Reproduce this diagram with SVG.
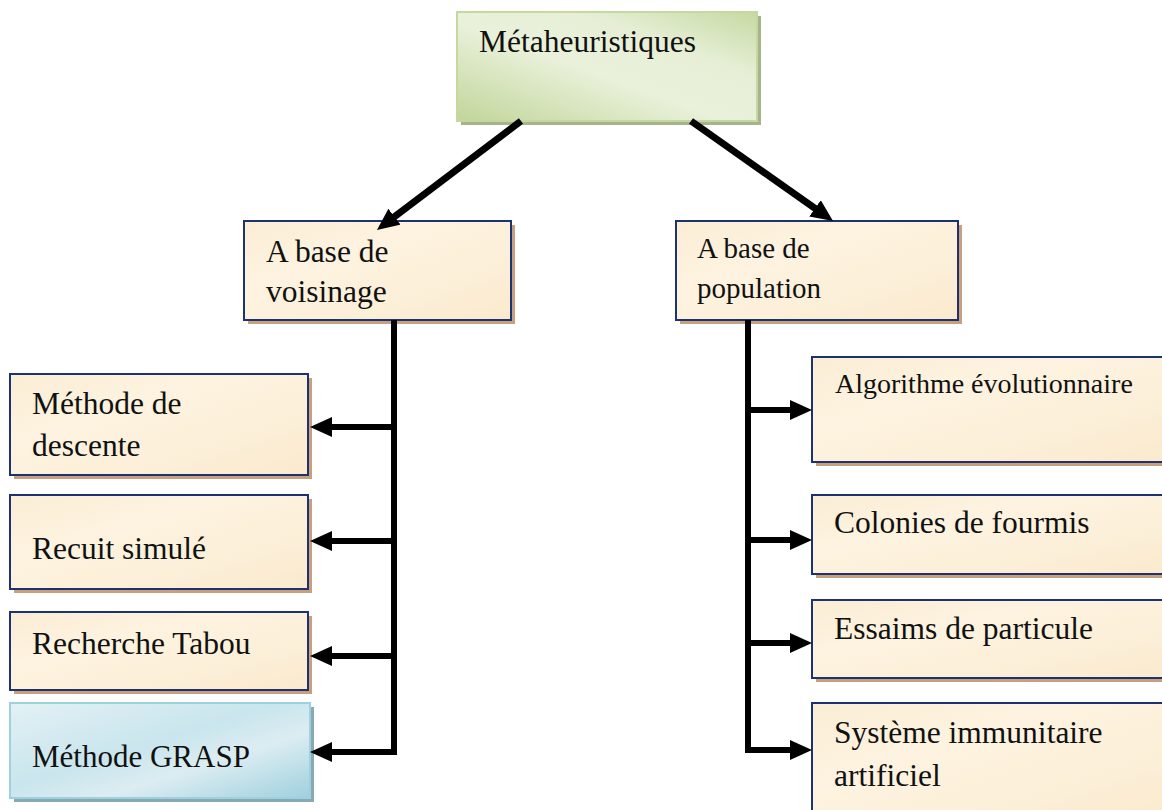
<svg xmlns="http://www.w3.org/2000/svg" width="1162" height="810" viewBox="0 0 1162 810">
  <defs>
    <linearGradient id="parchment" x1="0" y1="0" x2="1" y2="1">
      <stop offset="0" stop-color="#fbedd5"/>
      <stop offset="0.35" stop-color="#fdf3e0"/>
      <stop offset="0.7" stop-color="#fcefd8"/>
      <stop offset="1" stop-color="#fae9cd"/>
    </linearGradient>
    <linearGradient id="greenFill" x1="0" y1="1" x2="1" y2="0">
      <stop offset="0" stop-color="#c2d59a"/>
      <stop offset="0.45" stop-color="#e9f1da"/>
      <stop offset="0.7" stop-color="#e6efd6"/>
      <stop offset="1" stop-color="#c6d9a2"/>
    </linearGradient>
    <linearGradient id="blueFill" x1="0" y1="0" x2="1" y2="1">
      <stop offset="0" stop-color="#e3f1f5"/>
      <stop offset="0.45" stop-color="#c9e5ed"/>
      <stop offset="0.65" stop-color="#dcedf2"/>
      <stop offset="1" stop-color="#9fd0de"/>
    </linearGradient>
    <marker id="head" markerUnits="userSpaceOnUse" viewBox="0 0 22 20" markerWidth="22" markerHeight="20" refX="10" refY="10" orient="auto">
      <path d="M0,0 L22,10 L0,20 z" fill="#000"/>
    </marker>
  </defs>
  <style>
    .shadow-tan { fill: #c9a07f; }
    .box-tan { fill: url(#parchment); stroke: #1c3370; stroke-width: 2; }
    .label { font-family: "Liberation Serif", "Times New Roman", serif; font-size: 31.5px; fill: #111; }
    .small { font-size: 29px; }
    .smaller { font-size: 28px; }
    .link { fill: none; stroke: #000; stroke-width: 6; stroke-linejoin: miter; marker-end: url(#head); }
    .diag { stroke-width: 7; }
  </style>

  <!-- root -->
  <g id="node-metaheuristiques">
    <rect x="461" y="16" width="300" height="109" fill="#a6b48c"/>
    <rect x="457" y="12" width="300" height="109" fill="url(#greenFill)" stroke="#c5d8a0" stroke-width="2"/>
    <text class="label" x="479" y="52">Métaheuristiques</text>
  </g>

  <!-- second level -->
  <g id="node-voisinage">
    <rect class="shadow-tan" x="248" y="225" width="267" height="99"/>
    <rect class="box-tan" x="244" y="221" width="267" height="99"/>
    <text class="label" x="266" y="262">A base de</text>
    <text class="label" x="266" y="302">voisinage</text>
  </g>
  <g id="node-population">
    <rect class="shadow-tan" x="680" y="225" width="282" height="99"/>
    <rect class="box-tan" x="676" y="221" width="282" height="99"/>
    <text class="label small" x="697" y="258">A base de</text>
    <text class="label small" x="697" y="298">population</text>
  </g>

  <!-- neighbourhood methods -->
  <g id="node-descente">
    <rect class="shadow-tan" x="14" y="378" width="298" height="101"/>
    <rect class="box-tan" x="10" y="374" width="298" height="101"/>
    <text class="label" x="32" y="414">Méthode de</text>
    <text class="label" x="32" y="456">descente</text>
  </g>
  <g id="node-recuit">
    <rect class="shadow-tan" x="14" y="499" width="298" height="94"/>
    <rect class="box-tan" x="10" y="495" width="298" height="94"/>
    <text class="label" x="32" y="559">Recuit simulé</text>
  </g>
  <g id="node-tabou">
    <rect class="shadow-tan" x="14" y="616" width="298" height="78"/>
    <rect class="box-tan" x="10" y="612" width="298" height="78"/>
    <text class="label" x="32" y="654">Recherche Tabou</text>
  </g>
  <g id="node-grasp">
    <rect x="14" y="707" width="300" height="95" fill="#86a9b3"/>
    <rect x="10" y="703" width="300" height="95" fill="url(#blueFill)" stroke="#9fd0dd" stroke-width="2"/>
    <text class="label" x="32" y="767" style="font-size:31px">Méthode GRASP</text>
  </g>

  <!-- population methods -->
  <g id="node-evolutionnaire">
    <rect class="shadow-tan" x="816" y="361" width="360" height="105"/>
    <rect class="box-tan" x="812" y="357" width="360" height="105"/>
    <text class="label smaller" x="835" y="393">Algorithme évolutionnaire</text>
  </g>
  <g id="node-fourmis">
    <rect class="shadow-tan" x="816" y="499" width="360" height="79"/>
    <rect class="box-tan" x="812" y="495" width="360" height="79"/>
    <text class="label" x="834" y="533">Colonies de fourmis</text>
  </g>
  <g id="node-essaims">
    <rect class="shadow-tan" x="816" y="604" width="360" height="78"/>
    <rect class="box-tan" x="812" y="600" width="360" height="78"/>
    <text class="label" x="834" y="639">Essaims de particule</text>
  </g>
  <g id="node-immunitaire">
    <rect class="shadow-tan" x="816" y="707" width="360" height="120"/>
    <rect class="box-tan" x="812" y="703" width="360" height="120"/>
    <text class="label" x="834" y="743">Système immunitaire</text>
    <text class="label" x="834" y="786">artificiel</text>
  </g>

  <!-- connectors -->
  <g id="connectors">
    <path class="link diag" d="M521,121 L386.5,222.8"/>
    <path class="link diag" d="M691,121 L823.2,214.1"/>
    <path class="link" d="M394,320 V752 H322"/>
    <path class="link" d="M394,427 H322"/>
    <path class="link" d="M394,541 H322"/>
    <path class="link" d="M394,656 H322"/>
    <path class="link" d="M748,320 V750 H800"/>
    <path class="link" d="M748,410 H800"/>
    <path class="link" d="M748,540 H800"/>
    <path class="link" d="M748,643 H800"/>
  </g>
</svg>
